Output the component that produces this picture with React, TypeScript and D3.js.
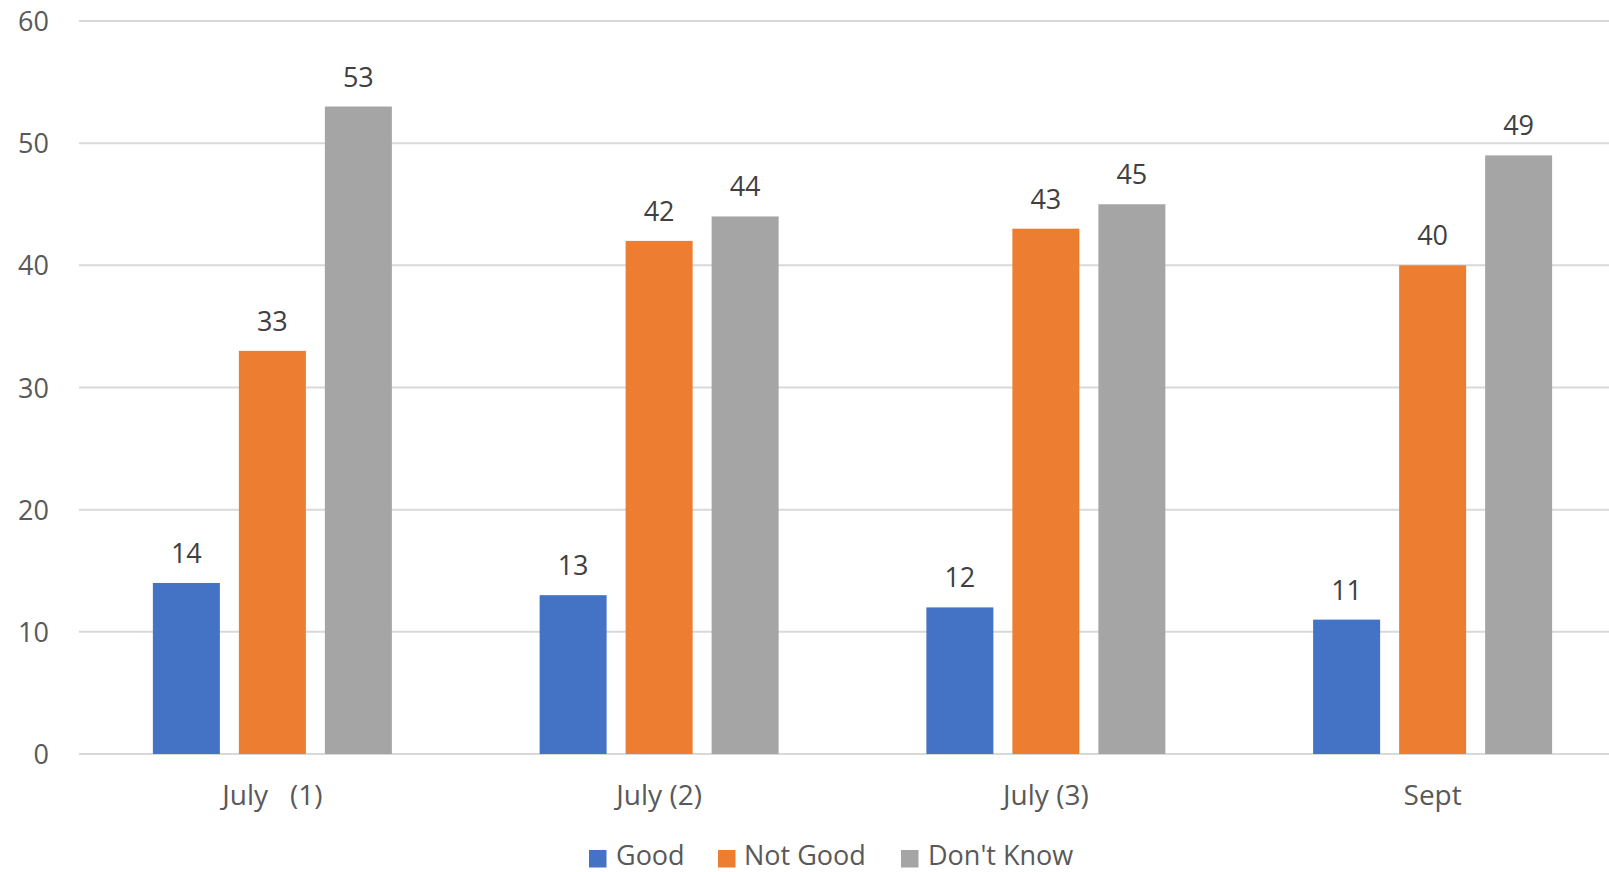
import React from "react";
import * as d3 from "d3";

const categories = ["July   (1)", "July (2)", "July (3)", "Sept"];
const seriesNames = ["Good", "Not Good", "Don't Know"];
const good = [14, 13, 12, 11];
const notGood = [33, 42, 43, 40];
const dontKnow = [53, 44, 45, 49];
const yTicks = [0, 10, 20, 30, 40, 50, 60];
const colors = ["#4472C4", "#ED7D31", "#A5A5A5"];

const W = 1609;
const H = 872;
const FONT = "'Open Sans', 'Noto Sans', sans-serif";

export default function App() {
  const values = [good, notGood, dontKnow];
  const left = 79;
  const right = 1626;
  const y = d3.scaleLinear().domain([0, 60]).range([754, 21]);
  const x = d3.scaleBand<string>().domain(categories).range([left, right]).padding(0);
  const groupW = 239;
  const inner = d3
    .scaleBand<string>()
    .domain(seriesNames)
    .range([0, groupW])
    .paddingInner(19 / 86)
    .paddingOuter(0);

  const legendItems = [
    { name: seriesNames[0], sx: 589, tx: 616 },
    { name: seriesNames[1], sx: 718, tx: 744 },
    { name: seriesNames[2], sx: 901, tx: 928 },
  ];

  return (
    <svg
      width={W}
      height={H}
      style={{ position: "absolute", left: 0, top: 0, background: "#fff" }}
      fontFamily={FONT}
    >
      {yTicks.map((t) => (
        <g key={t}>
          <line x1={left} x2={W} y1={y(t)} y2={y(t)} stroke="#D9D9D9" strokeWidth={2} />
          <text
            x={49}
            y={y(t) + 10}
            textAnchor="end"
            fontSize={27}
            fill="#595959"
          >
            {t}
          </text>
        </g>
      ))}
      {categories.map((c, ci) => {
        const cx = (x(c) as number) + x.bandwidth() / 2;
        const g0 = cx - groupW / 2;
        return (
          <g key={c}>
            {seriesNames.map((s, si) => {
              const v = values[si][ci];
              const bx = g0 + (inner(s) as number);
              return (
                <g key={s}>
                  <rect
                    x={bx}
                    y={y(v)}
                    width={inner.bandwidth()}
                    height={y(0) - y(v)}
                    fill={colors[si]}
                  />
                  <text
                    x={bx + inner.bandwidth() / 2}
                    y={y(v) - 20}
                    textAnchor="middle"
                    fontSize={27}
                    fill="#404040"
                  >
                    {v}
                  </text>
                </g>
              );
            })}
            <text
              x={cx}
              y={805}
              textAnchor="middle"
              fontSize={28}
              fill="#595959"
              style={{ whiteSpace: "pre" }}
            >
              {c}
            </text>
          </g>
        );
      })}
      {legendItems.map((it, i) => (
        <g key={it.name}>
          <rect x={it.sx} y={850} width={17.5} height={17.5} fill={colors[i]} />
          <text x={it.tx} y={865} fontSize={27} fill="#595959">
            {it.name}
          </text>
        </g>
      ))}
    </svg>
  );
}
